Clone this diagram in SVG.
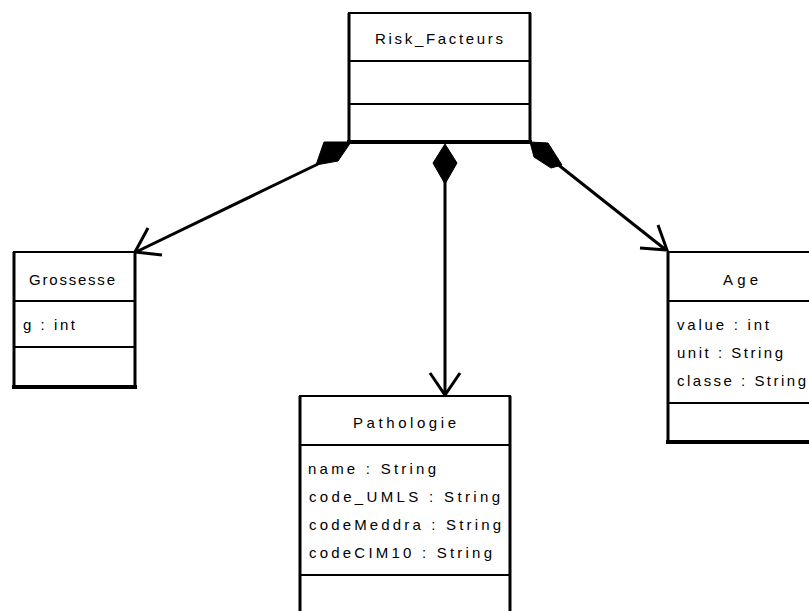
<svg xmlns="http://www.w3.org/2000/svg" width="809" height="611" viewBox="0 0 809 611">
<style>
.box{fill:#fff;stroke:#000;stroke-width:2}
.side{stroke:#000;stroke-width:3;fill:none}
.div{stroke:#000;stroke-width:2}
.t{font-family:"Liberation Sans",Arial,sans-serif;font-size:15px;fill:#000}
.ln{stroke:#000;stroke-width:3;fill:none}
.dia{fill:#000;stroke:#000;stroke-width:1}
</style>
<rect width="809" height="611" fill="#fff"/>
<g id="connectors">
<line class="ln" x1="318" y1="164" x2="136" y2="252"/>
<polyline class="ln" points="148,228 135,252 162,255"/>
<polygon class="dia" points="324,142 351,142 338,161 316,165"/>
<line class="ln" x1="445" y1="180" x2="445" y2="394"/>
<polyline class="ln" points="430,373 445,395 460,373"/>
<polygon class="dia" points="445,144 457,163 445,184 433,163"/>
<line class="ln" x1="556" y1="163" x2="666" y2="250"/>
<polyline class="ln" points="658,225 667,250 640,248"/>
<polygon class="dia" points="530,142 548,143 562,165 551,168 534,157"/>
</g>
<g id="risk_facteurs">
<rect class="box" x="349" y="13" width="181" height="129"/>
<line class="side" x1="349" y1="13" x2="349" y2="142"/>
<line class="side" x1="530" y1="13" x2="530" y2="142"/>
<line class="ln" x1="347" y1="142" x2="532" y2="142" style="stroke-width:4"/>
<line class="div" x1="349" y1="61" x2="530" y2="61"/>
<line class="div" x1="349" y1="104" x2="530" y2="104"/>
<text class="t" x="375" y="44" textLength="128" lengthAdjust="spacing">Risk_Facteurs</text>
</g>
<g id="grossesse">
<rect class="box" x="14" y="252" width="121" height="135"/>
<line class="side" x1="14" y1="252" x2="14" y2="387"/>
<line class="side" x1="135" y1="252" x2="135" y2="387"/>
<line class="ln" x1="12" y1="387" x2="137" y2="387" style="stroke-width:4"/>
<line class="div" x1="14" y1="301" x2="135" y2="301"/>
<line class="div" x1="14" y1="347" x2="135" y2="347"/>
<text class="t" x="29" y="285" textLength="86" lengthAdjust="spacing">Grossesse</text>
<text class="t" x="23" y="330" textLength="52" lengthAdjust="spacing">g : int</text>
</g>
<g id="pathologie">
<rect class="box" x="300" y="396" width="210" height="230"/>
<line class="side" x1="300" y1="396" x2="300" y2="620"/>
<line class="side" x1="510" y1="396" x2="510" y2="620"/>
<line class="div" x1="300" y1="445" x2="510" y2="445"/>
<line class="div" x1="300" y1="575" x2="510" y2="575"/>
<text class="t" x="353" y="428" textLength="103" lengthAdjust="spacing">Pathologie</text>
<text class="t" x="308" y="474" textLength="128" lengthAdjust="spacing">name : String</text>
<text class="t" x="309" y="502" textLength="191" lengthAdjust="spacing">code_UMLS : String</text>
<text class="t" x="309" y="530" textLength="192" lengthAdjust="spacing">codeMeddra : String</text>
<text class="t" x="309" y="558" textLength="183" lengthAdjust="spacing">codeCIM10 : String</text>
</g>
<g id="age">
<rect class="box" x="668" y="252" width="150" height="190"/>
<line class="side" x1="668" y1="252" x2="668" y2="442"/>
<line class="ln" x1="666" y1="442" x2="815" y2="442" style="stroke-width:4"/>
<line class="div" x1="668" y1="301" x2="815" y2="301"/>
<line class="div" x1="668" y1="403" x2="815" y2="403"/>
<text class="t" x="723" y="285" textLength="35" lengthAdjust="spacing">Age</text>
<text class="t" x="677" y="330" textLength="92" lengthAdjust="spacing">value : int</text>
<text class="t" x="677" y="358" textLength="106" lengthAdjust="spacing">unit : String</text>
<text class="t" x="677" y="386" textLength="129" lengthAdjust="spacing">classe : String</text>
</g>
</svg>
